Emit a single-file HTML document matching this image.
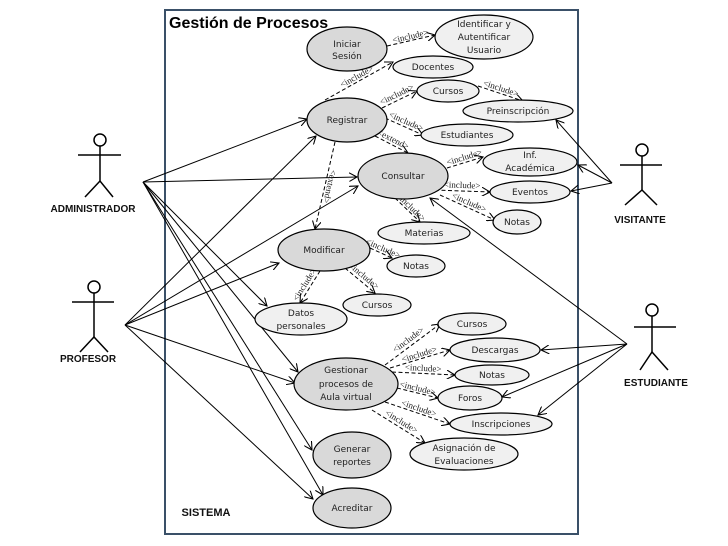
<!DOCTYPE html>
<html><head><meta charset="utf-8"><style>
html,body{margin:0;padding:0;background:#fff;}
svg{display:block;}
.u{font-family:"DejaVu Sans","Liberation Sans",sans-serif;font-size:9px;fill:#222;text-anchor:middle;}
.i{font-family:"Liberation Serif",serif;font-size:9px;fill:#222;text-anchor:middle;}
.a{font-family:"Liberation Sans",sans-serif;font-weight:bold;font-size:10px;fill:#111;text-anchor:middle;}
.m{fill:#d9d9d9;stroke:#000;stroke-width:1.2;}
.l{fill:#f0f0f0;stroke:#000;stroke-width:1.2;}
.s{stroke:#000;stroke-width:1;fill:none;}
.d{stroke:#000;stroke-width:1;fill:none;stroke-dasharray:4,2.5;}
</style></head><body>
<svg width="728" height="546" viewBox="0 0 728 546" xmlns="http://www.w3.org/2000/svg">
<defs>
<marker id="ar" viewBox="0 0 10 10" refX="9" refY="5" markerWidth="9" markerHeight="9" orient="auto" markerUnits="userSpaceOnUse">
<path d="M0,0 L9,5 L0,10" fill="none" stroke="#000" stroke-width="1.2"/></marker>
</defs>
<rect x="165" y="10" width="413" height="524" fill="#fff" stroke="#3a5068" stroke-width="2"/>
<text x="169" y="28" style="font-family:'Liberation Sans',sans-serif;font-weight:bold;font-size:16px;">Gestión de Procesos</text>
<text x="206" y="516" class="a" style="font-size:11px">SISTEMA</text>

<!-- solid actor lines -->
<g class="s" marker-end="url(#ar)">
<line x1="143" y1="182" x2="307" y2="119" marker-end="url(#ar)"/>
<line x1="143" y1="182" x2="357" y2="177" marker-end="url(#ar)"/>
<line x1="143" y1="182" x2="267" y2="306" marker-end="url(#ar)"/>
<line x1="143" y1="182" x2="312" y2="450" marker-end="url(#ar)"/>
<line x1="143" y1="182" x2="323" y2="495" marker-end="url(#ar)"/>
<line x1="143" y1="182" x2="298" y2="372" marker-end="url(#ar)"/>
<line x1="125" y1="325" x2="316" y2="136" marker-end="url(#ar)"/>
<line x1="125" y1="325" x2="358" y2="186" marker-end="url(#ar)"/>
<line x1="125" y1="325" x2="279" y2="263" marker-end="url(#ar)"/>
<line x1="125" y1="325" x2="295" y2="383" marker-end="url(#ar)"/>
<line x1="125" y1="325" x2="313" y2="499" marker-end="url(#ar)"/>
<line x1="612" y1="183" x2="556" y2="120" marker-end="url(#ar)"/>
<line x1="612" y1="183" x2="578" y2="165" marker-end="url(#ar)"/>
<line x1="612" y1="183" x2="571" y2="191" marker-end="url(#ar)"/>
<line x1="627" y1="344" x2="430" y2="198" marker-end="url(#ar)"/>
<line x1="627" y1="344" x2="541" y2="350" marker-end="url(#ar)"/>
<line x1="627" y1="344" x2="502" y2="397" marker-end="url(#ar)"/>
<line x1="627" y1="344" x2="538" y2="415" marker-end="url(#ar)"/>
</g>

<!-- dashed -->
<g class="d">
<line x1="387" y1="46" x2="435" y2="35" marker-end="url(#ar)"/>
<line x1="325" y1="100" x2="393" y2="62" marker-end="url(#ar)"/>
<line x1="382" y1="108" x2="417" y2="91" marker-end="url(#ar)"/>
<line x1="478" y1="86" x2="523" y2="101" marker-end="url(#ar)"/>
<line x1="385" y1="118" x2="423" y2="135" marker-end="url(#ar)"/>
<line x1="375" y1="136" x2="408" y2="153" marker-end="url(#ar)"/>
<line x1="335" y1="142" x2="315" y2="229" marker-end="url(#ar)"/>
<line x1="447" y1="168" x2="483" y2="157" marker-end="url(#ar)"/>
<line x1="435" y1="190" x2="490" y2="192" marker-end="url(#ar)"/>
<line x1="440" y1="195" x2="495" y2="220" marker-end="url(#ar)"/>
<line x1="395" y1="198" x2="420" y2="222" marker-end="url(#ar)"/>
<line x1="370" y1="248" x2="392" y2="258" marker-end="url(#ar)"/>
<line x1="345" y1="268" x2="375" y2="293" marker-end="url(#ar)"/>
<line x1="320" y1="271" x2="300" y2="303" marker-end="url(#ar)"/>
<line x1="385" y1="365" x2="440" y2="324" marker-end="url(#ar)"/>
<line x1="390" y1="368" x2="450" y2="350" marker-end="url(#ar)"/>
<line x1="392" y1="372" x2="455" y2="375" marker-end="url(#ar)"/>
<line x1="397" y1="388" x2="438" y2="398" marker-end="url(#ar)"/>
<line x1="385" y1="402" x2="450" y2="424" marker-end="url(#ar)"/>
<line x1="372" y1="410" x2="425" y2="443" marker-end="url(#ar)"/>
</g>
<g class="i">
<text transform="translate(411,39) rotate(-13)">&lt;include&gt;</text>
<text transform="translate(358,79) rotate(-29)">&lt;include&gt;</text>
<text transform="translate(398,97) rotate(-26)">&lt;include&gt;</text>
<text transform="translate(500,91) rotate(18)">&lt;include&gt;</text>
<text transform="translate(405,124) rotate(24)">&lt;include&gt;</text>
<text transform="translate(392,142) rotate(27)">&lt;extend&gt;</text>
<text transform="translate(327,186) rotate(103)">&lt;extend&gt;</text>
<text transform="translate(465,160) rotate(-17)">&lt;include&gt;</text>
<text transform="translate(462,188) rotate(2)">&lt;include&gt;</text>
<text transform="translate(468,205) rotate(24)">&lt;include&gt;</text>
<text transform="translate(409,209) rotate(44)">&lt;include&gt;</text>
<text transform="translate(382,251) rotate(24)">&lt;include&gt;</text>
<text transform="translate(362,278) rotate(40)">&lt;include&gt;</text>
<text transform="translate(307,286) rotate(-58)">&lt;include&gt;</text>
<text transform="translate(410,342) rotate(-37)">&lt;include&gt;</text>
<text transform="translate(420,357) rotate(-17)">&lt;include&gt;</text>
<text transform="translate(423,371) rotate(3)">&lt;include&gt;</text>
<text transform="translate(417,391) rotate(14)">&lt;include&gt;</text>
<text transform="translate(418,411) rotate(19)">&lt;include&gt;</text>
<text transform="translate(400,424) rotate(32)">&lt;include&gt;</text>
</g>

<!-- ellipses -->
<ellipse class="m" cx="347" cy="49" rx="40" ry="22"/>
<text class="u" x="347" y="47">Iniciar</text><text class="u" x="347" y="59">Sesión</text>
<ellipse class="l" cx="484" cy="37" rx="49" ry="22"/>
<text class="u" x="484" y="27">Identificar y</text><text class="u" x="484" y="40">Autentificar</text><text class="u" x="484" y="53">Usuario</text>
<ellipse class="l" cx="433" cy="67" rx="40" ry="11"/><text class="u" x="433" y="70">Docentes</text>
<ellipse class="m" cx="347" cy="120" rx="40" ry="22"/><text class="u" x="347" y="123">Registrar</text>
<ellipse class="l" cx="448" cy="91" rx="31" ry="11"/><text class="u" x="448" y="94">Cursos</text>
<ellipse class="l" cx="518" cy="111" rx="55" ry="11"/><text class="u" x="518" y="114">Preinscripción</text>
<ellipse class="l" cx="467" cy="135" rx="46" ry="11"/><text class="u" x="467" y="138">Estudiantes</text>
<ellipse class="m" cx="403" cy="176" rx="45" ry="23"/><text class="u" x="403" y="179">Consultar</text>
<ellipse class="l" cx="530" cy="162" rx="47" ry="14"/>
<text class="u" x="530" y="158">Inf.</text><text class="u" x="530" y="171">Académica</text>
<ellipse class="l" cx="530" cy="192" rx="40" ry="11"/><text class="u" x="530" y="195">Eventos</text>
<ellipse class="l" cx="517" cy="222" rx="24" ry="12"/><text class="u" x="517" y="225">Notas</text>
<ellipse class="l" cx="424" cy="233" rx="46" ry="11"/><text class="u" x="424" y="236">Materias</text>
<ellipse class="m" cx="324" cy="250" rx="46" ry="21"/><text class="u" x="324" y="253">Modificar</text>
<ellipse class="l" cx="416" cy="266" rx="29" ry="11"/><text class="u" x="416" y="269">Notas</text>
<ellipse class="l" cx="377" cy="305" rx="34" ry="11"/><text class="u" x="377" y="308">Cursos</text>
<ellipse class="l" cx="301" cy="319" rx="46" ry="16"/>
<text class="u" x="301" y="316">Datos</text><text class="u" x="301" y="329">personales</text>
<ellipse class="l" cx="472" cy="324" rx="34" ry="11"/><text class="u" x="472" y="327">Cursos</text>
<ellipse class="l" cx="495" cy="350" rx="45" ry="12"/><text class="u" x="495" y="353">Descargas</text>
<ellipse class="l" cx="492" cy="375" rx="37" ry="10"/><text class="u" x="492" y="378">Notas</text>
<ellipse class="m" cx="346" cy="384" rx="52" ry="26"/>
<text class="u" x="346" y="373">Gestionar</text><text class="u" x="346" y="387">procesos de</text><text class="u" x="346" y="400">Aula virtual</text>
<ellipse class="l" cx="470" cy="398" rx="32" ry="12"/><text class="u" x="470" y="401">Foros</text>
<ellipse class="l" cx="501" cy="424" rx="51" ry="11"/><text class="u" x="501" y="427">Inscripciones</text>
<ellipse class="l" cx="464" cy="454" rx="54" ry="16"/>
<text class="u" x="464" y="451">Asignación de</text><text class="u" x="464" y="464">Evaluaciones</text>
<ellipse class="m" cx="352" cy="455" rx="39" ry="23"/>
<text class="u" x="352" y="452">Generar</text><text class="u" x="352" y="465">reportes</text>
<ellipse class="m" cx="352" cy="508" rx="39" ry="20"/><text class="u" x="352" y="511">Acreditar</text>

<!-- actors -->
<g stroke="#000" stroke-width="1.5" fill="#fff">
<circle cx="100" cy="140" r="6"/><line x1="100" y1="146" x2="100" y2="181"/><line x1="78" y1="155" x2="121" y2="155"/><polyline points="85,197 100,181 113,197" fill="none"/>
<circle cx="94" cy="287" r="6"/><line x1="94" y1="293" x2="94" y2="337"/><line x1="72" y1="302" x2="114" y2="302"/><polyline points="80,352 94,337 108,352" fill="none"/>
<circle cx="642" cy="150" r="6"/><line x1="642" y1="156" x2="642" y2="190"/><line x1="620" y1="165" x2="662" y2="165"/><polyline points="625,205 642,190 657,205" fill="none"/>
<circle cx="652" cy="310" r="6"/><line x1="652" y1="316" x2="652" y2="352"/><line x1="634" y1="327" x2="676" y2="327"/><polyline points="640,370 652,352 668,370" fill="none"/>
</g>
<text class="a" x="93" y="212">ADMINISTRADOR</text>
<text class="a" x="88" y="362">PROFESOR</text>
<text class="a" x="640" y="223">VISITANTE</text>
<text class="a" x="656" y="386">ESTUDIANTE</text>
</svg>
</body></html>
